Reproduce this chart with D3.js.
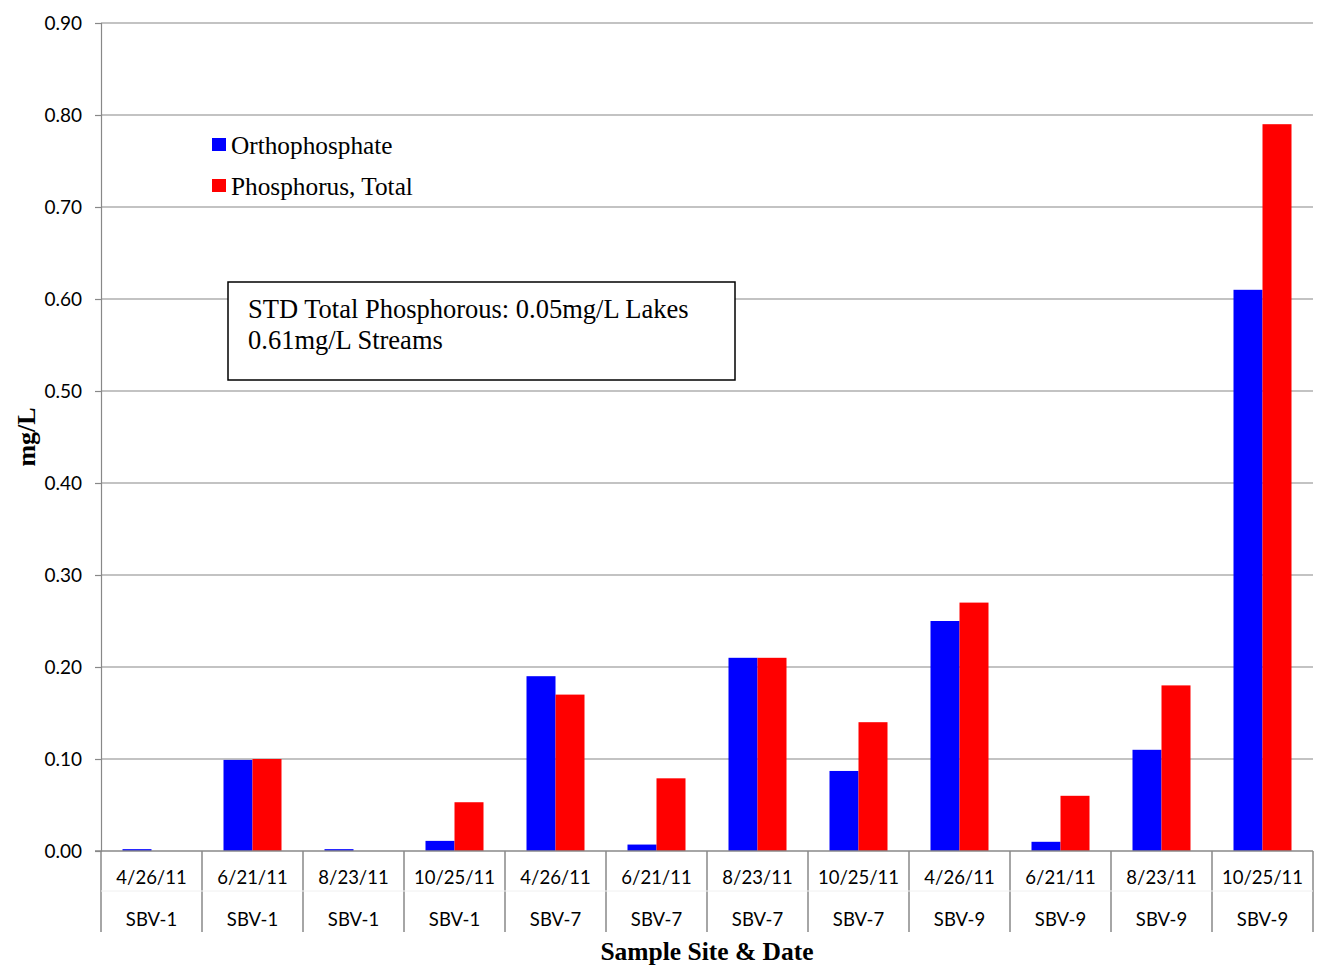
<!DOCTYPE html>
<html><head><meta charset="utf-8">
<script src="https://cdn.jsdelivr.net/npm/d3@7"></script>
<style>body{margin:0;background:#fff}</style>
</head><body>
<svg id="c" width="1321" height="972"></svg>
<script>
const dates = ["4/26/11","6/21/11","8/23/11","10/25/11","4/26/11","6/21/11","8/23/11","10/25/11","4/26/11","6/21/11","8/23/11","10/25/11"];
const sites = ["SBV-1","SBV-1","SBV-1","SBV-1","SBV-7","SBV-7","SBV-7","SBV-7","SBV-9","SBV-9","SBV-9","SBV-9"];
const orthophosphate = [0.002,0.099,0.002,0.011,0.19,0.007,0.21,0.087,0.25,0.010,0.11,0.61];
const phosphorusTotal = [0,0.10,0,0.053,0.17,0.079,0.21,0.14,0.27,0.06,0.18,0.79];
const seriesNames = ["Orthophosphate","Phosphorus, Total"];
const seriesColors = ["#0000ff","#ff0000"];
const yTicks = [0,0.1,0.2,0.3,0.4,0.5,0.6,0.7,0.8,0.9];
const note = ["STD Total Phosphorous: 0.05mg/L Lakes","0.61mg/L Streams"];

const svg = d3.select("#c");
const L=101,R=1313,T=23,B=851;
const idx = d3.range(dates.length);
const x = d3.scaleBand().domain(idx).range([L,R]).paddingInner(0).paddingOuter(0);
const y = d3.scaleLinear().domain([0,0.9]).range([B,T]);
const axisCol="#888888";
const sans="Lato, 'Open Sans', sans-serif";
const serif="'Liberation Serif','Times New Roman',serif";

// gridlines
svg.append("g").selectAll("line").data(yTicks.slice(1)).join("line")
 .attr("x1",L).attr("x2",R).attr("y1",d=>y(d)).attr("y2",d=>y(d))
 .attr("stroke",axisCol).attr("stroke-width",1.2);

// y axis
const ya = svg.append("g").attr("transform",`translate(${L},0)`)
 .call(d3.axisLeft(y).tickValues(yTicks).tickFormat(d3.format(".2f")).tickSize(6).tickPadding(13));
ya.select(".domain").attr("stroke",axisCol).attr("stroke-width",1.2);
ya.selectAll(".tick line").attr("stroke",axisCol).attr("stroke-width",1.2);
ya.selectAll("text").attr("font-family",sans).attr("font-size",19).attr("fill","#000");

// bars
const bw = 29;
const inner = d3.scaleBand().domain([0,1]).range([0,bw*2]);
const series=[orthophosphate,phosphorusTotal];
series.forEach((vals,s)=>{
  svg.append("g").selectAll("rect").data(idx).join("rect")
   .attr("x",i=>x(i)+x.bandwidth()/2-bw+inner(s))
   .attr("width",inner.bandwidth())
   .attr("y",i=>y(vals[i]))
   .attr("height",i=>Math.max(0,y(0)-y(vals[i])))
   .attr("fill",seriesColors[s]);
});

// x axis line
svg.append("line").attr("x1",L-6).attr("x2",R).attr("y1",B).attr("y2",B).attr("stroke",axisCol).attr("stroke-width",1.5);
// category separators
svg.append("g").selectAll("line").data(d3.range(dates.length+1)).join("line")
 .attr("x1",i=>L+i*x.bandwidth()).attr("x2",i=>L+i*x.bandwidth())
 .attr("y1",B).attr("y2",932).attr("stroke",axisCol).attr("stroke-width",1.5);
// faint row separator
svg.append("line").attr("x1",L).attr("x2",R).attr("y1",891).attr("y2",891).attr("stroke","#f0f0f0").attr("stroke-width",1);

svg.append("g").selectAll("text").data(idx).join("text")
 .attr("x",i=>x(i)+x.bandwidth()/2).attr("y",884).attr("text-anchor","middle")
 .attr("font-family",sans).attr("font-size",18.5).text(i=>dates[i]);
svg.append("g").selectAll("text").data(idx).join("text")
 .attr("x",i=>x(i)+x.bandwidth()/2).attr("y",926).attr("text-anchor","middle")
 .attr("font-family",sans).attr("font-size",18.5).text(i=>sites[i]);

// titles
svg.append("text").attr("x",707).attr("y",960).attr("text-anchor","middle")
 .attr("font-family",serif).attr("font-weight","bold").attr("font-size",25.5).text("Sample Site & Date");
svg.append("text").attr("transform","translate(35,437) rotate(-90)").attr("text-anchor","middle")
 .attr("font-family",serif).attr("font-weight","bold").attr("font-size",26).text("mg/L");

// legend
seriesNames.forEach((n,i)=>{
  const yy=138+i*41;
  svg.append("rect").attr("x",212).attr("y",yy).attr("width",14).attr("height",13).attr("fill",seriesColors[i]);
  svg.append("text").attr("x",231).attr("y",yy+16).attr("font-family",serif).attr("font-size",25.3).text(n);
});

// note box
svg.append("rect").attr("x",228).attr("y",282).attr("width",507).attr("height",98)
 .attr("fill","#fff").attr("stroke","#000").attr("stroke-width",1.5);
note.forEach((t,i)=>{
  svg.append("text").attr("x",248).attr("y",318+i*31).attr("font-family",serif).attr("font-size",26.5).text(t);
});
</script>
</body></html>
